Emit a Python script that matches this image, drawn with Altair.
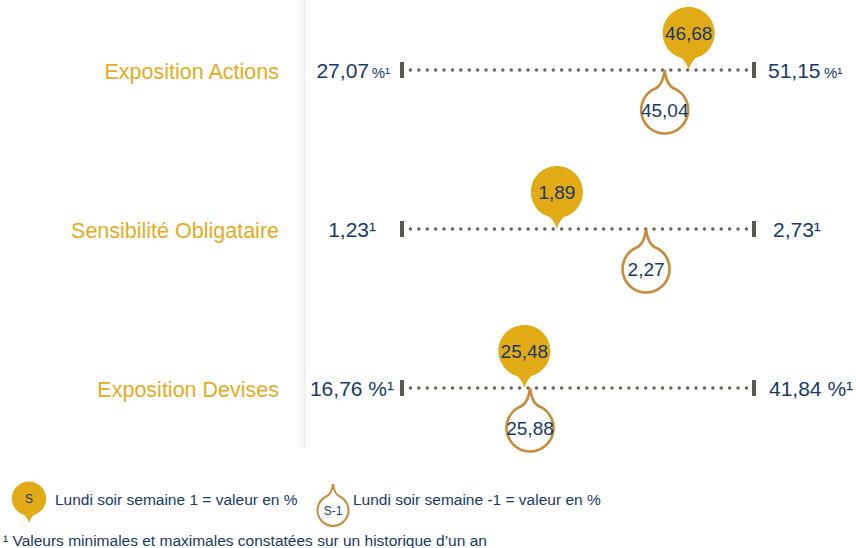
import altair as alt
import pandas as pd

# ---------------- data ----------------
labels = ["Exposition Actions", "Sensibilité Obligataire", "Exposition Devises"]
min_vals = [27.07, 1.23, 16.76]
max_vals = [51.15, 2.73, 41.84]
cur_vals = [46.68, 1.89, 25.48]    # S   (Lundi soir semaine 1)
prev_vals = [45.04, 2.27, 25.88]   # S-1 (Lundi soir semaine -1)
cur_labels = ["46,68", "1,89", "25,48"]
prev_labels = ["45,04", "2,27", "25,88"]
min_labels = ["27,07", "1,23¹", "16,76 %¹"]
max_labels = ["51,15", "2,73¹", "41,84 %¹"]
small_suffix = ["%¹", "", ""]
legend_symbols = ["S", "S-1"]
legend_texts = ["Lundi soir semaine 1 = valeur en %", "Lundi soir semaine -1 = valeur en %"]
footnote = "¹ Valeurs minimales et maximales constatées sur un historique d’un an"

# ---------------- style / layout ----------------
W, H = 856, 548
LINE_X0, LINE_X1 = 402, 754
ROW0_Y, ROW_STEP = 70, 159
FONT = "Liberation Sans, Arial, sans-serif"
GOLD = "#E2AA14"
GOLD_TXT = "#E5AB1E"
NAVY = "#17396A"
TICK = "#5E5650"
DOT = "#6B635C"
OUT = "#C98B3A"

# pin shapes: tip at origin (size=4 -> 1 path unit = 1 px)
PIN_DOWN = "M0,0 Q-2,-7 -7,-12 A26,26 0 1,1 7,-12 Q2,-7 0,0 Z"
PIN_UP = "M0,0 Q2,16.5 11,19.2 A23.5,23.5 0 1,1 -11,19.2 Q-2,16.5 0,0 Z"

rows = pd.DataFrame({
    "row": [0, 1, 2],
    "label": labels,
    "lo": [0.0] * 3,
    "hi": [1.0] * 3,
    "cur": [(c - a) / (b - a) for c, a, b in zip(cur_vals, min_vals, max_vals)],
    "prev": [(p - a) / (b - a) for p, a, b in zip(prev_vals, min_vals, max_vals)],
    "cur_t": cur_labels,
    "prev_t": prev_labels,
    "min_t": min_labels,
    "max_t": max_labels,
    "suf": small_suffix,
})
ends = pd.DataFrame({"row": [0, 1, 2] * 2, "pos": [0.0] * 3 + [1.0] * 3})
one = pd.DataFrame({"a": [0]})

span = LINE_X1 - LINE_X0
xs = alt.Scale(domain=[-LINE_X0 / span, (W - LINE_X0) / span], nice=False, zero=False)
ys = alt.Scale(domain=[-ROW0_Y / ROW_STEP, (H - ROW0_Y) / ROW_STEP], reverse=True, nice=False, zero=False)


def X(f):
    return alt.X(f, type="quantitative", scale=xs, axis=None)


def Y(f="row"):
    return alt.Y(f, type="quantitative", scale=ys, axis=None)


layers = []

# soft card shadow
layers.append(
    alt.Chart(one).mark_rect(
        color={"gradient": "linear", "x1": 0, "x2": 1, "y1": 0, "y2": 0,
               "stops": [{"offset": 0, "color": "#ffffff"}, {"offset": 1, "color": "#f0f0f0"}]}
    ).encode(x=alt.value(296), x2=alt.value(306), y=alt.value(0), y2=alt.value(448))
)

# row labels
layers.append(
    alt.Chart(rows).mark_text(align="right", baseline="middle", font=FONT, fontSize=21.5,
                              color=GOLD_TXT, dy=3)
    .encode(x=alt.value(279), y=Y(), text="label:N")
)

# dotted line
layers.append(
    alt.Chart(rows).mark_rule(strokeDash=[0.1, 8.3], strokeCap="round", strokeWidth=3.4, color=DOT)
    .encode(x=X("lo"), x2="hi:Q", y=Y())
)

# end ticks
layers.append(
    alt.Chart(ends).mark_rule(strokeWidth=4, color=TICK, yOffset=-8, y2Offset=8)
    .encode(x=X("pos"), y=Y(), y2="row:Q")
)

# min / max labels (layout offsets per row)
NUM_SIZE = 21
min_dx = [-33, -26, -8]
max_dx = [14, 19, 15]
for i in range(3):
    r = rows[rows.row == i]
    layers.append(
        alt.Chart(r).mark_text(align="right", baseline="middle", font=FONT, fontSize=NUM_SIZE,
                               color=NAVY, dx=min_dx[i], dy=2)
        .encode(x=X("lo"), y=Y(), text="min_t:N")
    )
    layers.append(
        alt.Chart(r).mark_text(align="left", baseline="middle", font=FONT, fontSize=NUM_SIZE,
                               color=NAVY, dx=max_dx[i], dy=2)
        .encode(x=X("hi"), y=Y(), text="max_t:N")
    )
    if small_suffix[i]:
        layers.append(
            alt.Chart(r).mark_text(align="right", baseline="middle", font=FONT, fontSize=15,
                                   color=NAVY, dx=-12, dy=3)
            .encode(x=X("lo"), y=Y(), text="suf:N")
        )
        layers.append(
            alt.Chart(r).mark_text(align="left", baseline="middle", font=FONT, fontSize=15,
                                   color=NAVY, dx=max_dx[i] + 56, dy=3)
            .encode(x=X("hi"), y=Y(), text="suf:N")
        )

# S-1 pins (outlined, below)
layers.append(
    alt.Chart(rows).mark_point(shape=PIN_UP, size=4, fill="white", stroke=OUT, strokeWidth=2.6,
                               opacity=1, fillOpacity=1)
    .encode(x=X("prev"), y=Y())
)
layers.append(
    alt.Chart(rows).mark_text(align="center", baseline="middle", font=FONT, fontSize=19,
                              color=NAVY, dy=41)
    .encode(x=X("prev"), y=Y(), text="prev_t:N")
)

# S pins (filled, above)
layers.append(
    alt.Chart(rows).mark_point(shape=PIN_DOWN, size=4, filled=True, color=GOLD, strokeWidth=0,
                               opacity=1)
    .encode(x=X("cur"), y=Y())
)
layers.append(
    alt.Chart(rows).mark_text(align="center", baseline="middle", font=FONT, fontSize=19,
                              color=NAVY, dy=-36)
    .encode(x=X("cur"), y=Y(), text="cur_t:N")
)

# legend
leg_scale = 0.66
layers.append(
    alt.Chart(one).mark_point(shape=PIN_DOWN, size=4 * leg_scale ** 2, filled=True, color=GOLD,
                              strokeWidth=0, opacity=1)
    .encode(x=alt.value(29), y=alt.value(523))
)
layers.append(
    alt.Chart(one).mark_text(align="center", baseline="middle", font=FONT, fontSize=12, color=NAVY)
    .encode(x=alt.value(29), y=alt.value(499), text=alt.value(legend_symbols[0]))
)
layers.append(
    alt.Chart(one).mark_point(shape=PIN_UP, size=4 * leg_scale ** 2, fill="white", stroke=OUT,
                              strokeWidth=2, opacity=1, fillOpacity=1)
    .encode(x=alt.value(333), y=alt.value(484))
)
layers.append(
    alt.Chart(one).mark_text(align="center", baseline="middle", font=FONT, fontSize=12, color=NAVY)
    .encode(x=alt.value(333), y=alt.value(511), text=alt.value(legend_symbols[1]))
)
for lx, t in zip([55, 353], legend_texts):
    layers.append(
        alt.Chart(one).mark_text(align="left", baseline="middle", font=FONT, fontSize=15.5, color=NAVY)
        .encode(x=alt.value(lx), y=alt.value(500), text=alt.value(t))
    )

# footnote
layers.append(
    alt.Chart(one).mark_text(align="left", baseline="middle", font=FONT, fontSize=15.5, color=NAVY)
    .encode(x=alt.value(3), y=alt.value(541), text=alt.value(footnote))
)

chart = alt.layer(*layers).properties(
    width=W, height=H, autosize=alt.AutoSizeParams(type="none"), padding=0,
    background="white"
).configure_view(strokeWidth=0)

chart.save("out.html", embed_options={"renderer": "svg", "actions": False})
